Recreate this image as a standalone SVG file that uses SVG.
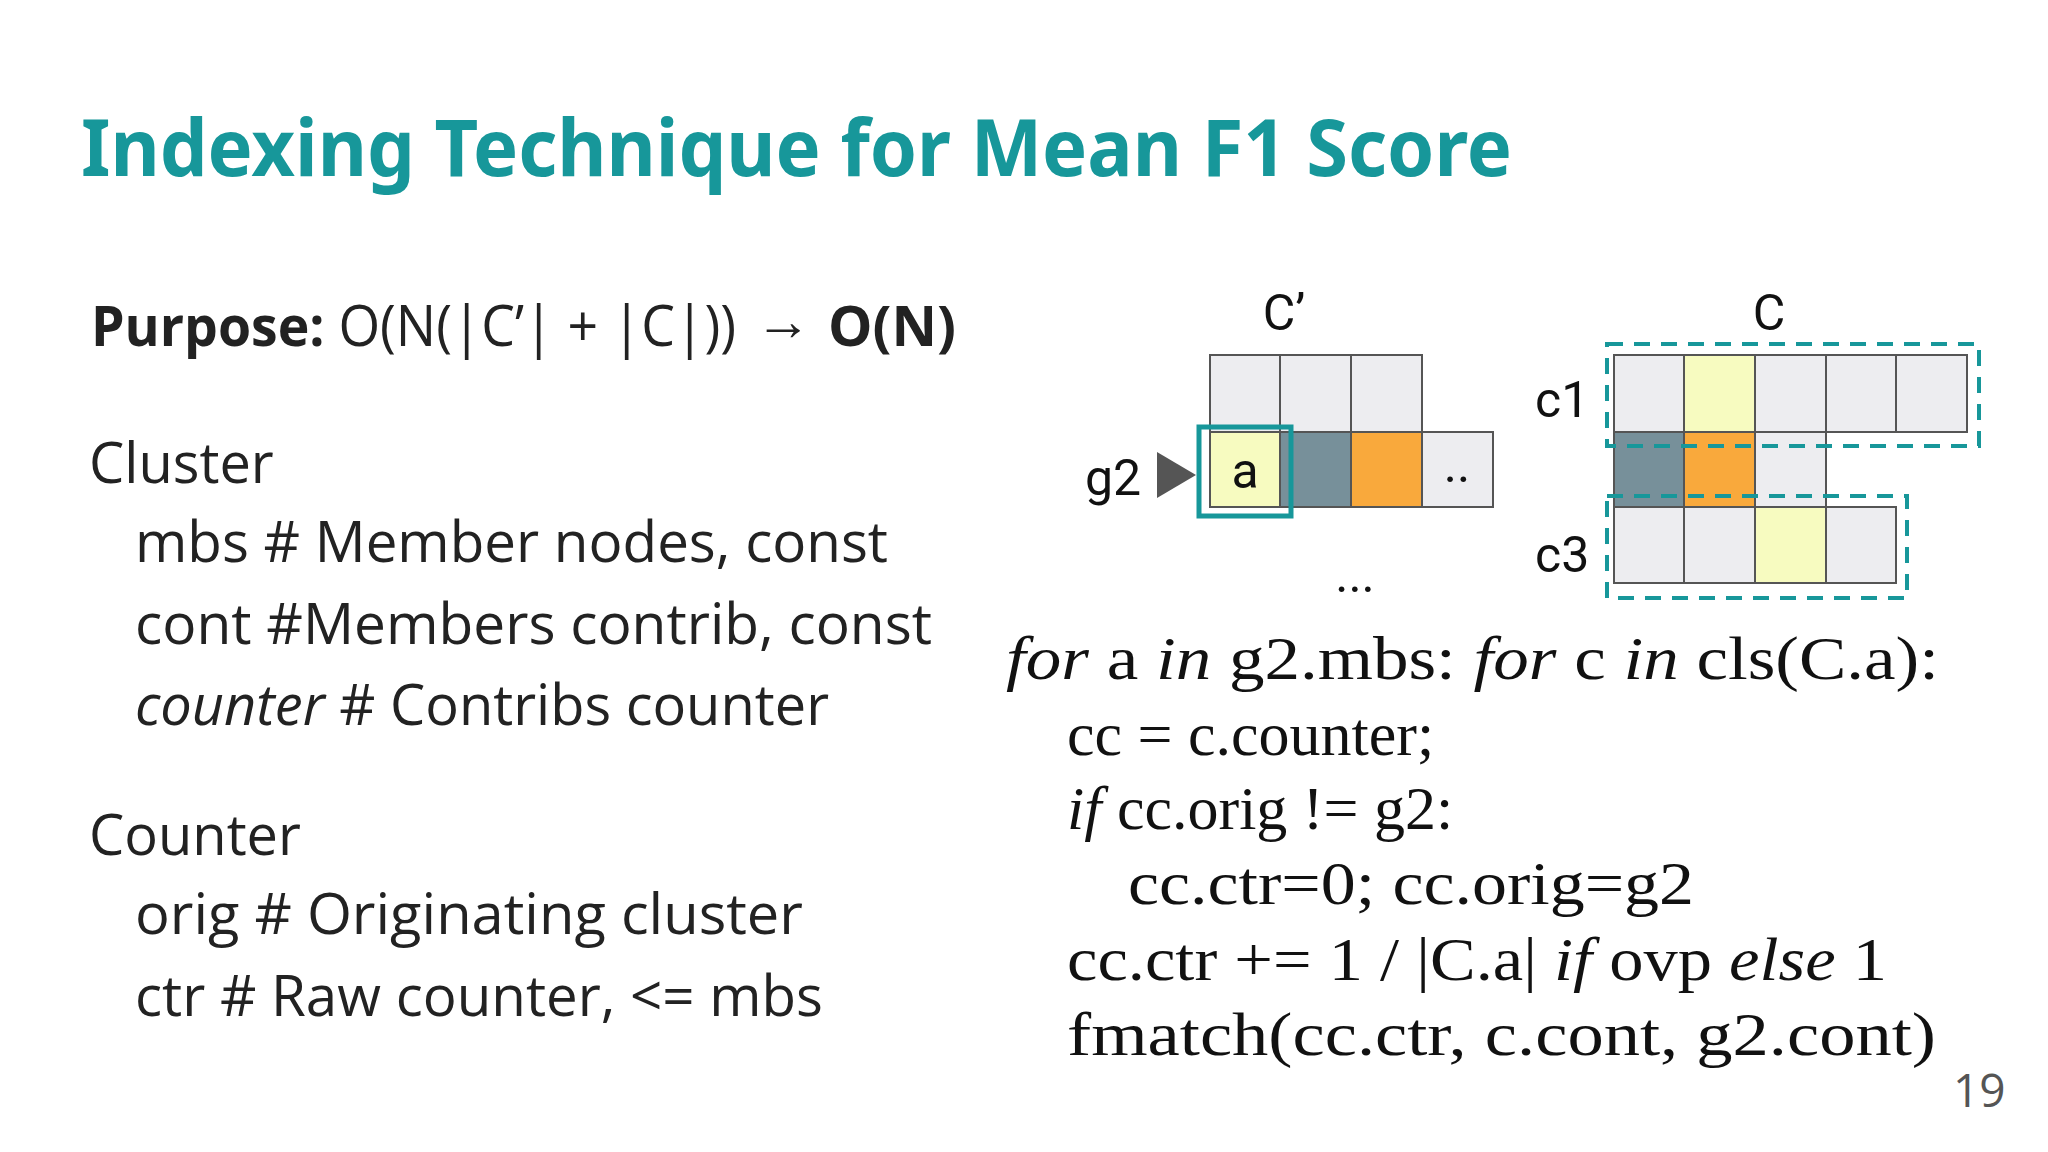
<svg xmlns="http://www.w3.org/2000/svg" width="2048" height="1152" viewBox="0 0 2048 1152">
<style>
.t{font-family:"Open Sans","Liberation Sans",sans-serif;fill:#222;font-size:56px}
.s{font-family:"Liberation Serif",serif;fill:#111;font-size:62px}
.lb{font-family:"Roboto","Liberation Sans",sans-serif;fill:#111;font-size:50px}
.c{stroke:#555;stroke-width:2}
.L{fill:#ededf0}.Y{fill:#f7fbc0}.D{fill:#77909a}.O{fill:#f9a93c}
.dash{fill:none;stroke:#17979a;stroke-width:4;stroke-dasharray:16 11}
</style>
<rect width="2048" height="1152" fill="#fff"/>
<text x="81" y="176" font-family="Noto Sans,sans-serif" font-weight="bold" font-size="78" fill="#17979a" textLength="1431" lengthAdjust="spacingAndGlyphs">Indexing Technique for Mean F1 Score</text>
<g id="left">
<text class="t" x="91" y="346" textLength="645" lengthAdjust="spacingAndGlyphs"><tspan font-weight="bold">Purpose:</tspan> O(N(|C’| + |C|))</text>
<text class="t" x="755" y="340" font-weight="bold" font-size="60">→</text>
<text class="t" x="828" y="346" font-weight="bold" fill="#17979a" textLength="128" lengthAdjust="spacingAndGlyphs">O(N)</text>
<text class="t" x="89" y="483">Cluster</text>
<text class="t" x="135" y="562" textLength="753" lengthAdjust="spacingAndGlyphs">mbs  # Member nodes, const</text>
<text class="t" x="135" y="644" textLength="797" lengthAdjust="spacingAndGlyphs">cont  #Members contrib, const</text>
<text class="t" x="135" y="725" textLength="694" lengthAdjust="spacingAndGlyphs"><tspan font-style="italic">counter</tspan>  # Contribs counter</text>
<text class="t" x="89" y="855">Counter</text>
<text class="t" x="135" y="934" textLength="668" lengthAdjust="spacingAndGlyphs">orig  # Originating cluster</text>
<text class="t" x="135" y="1016" textLength="688" lengthAdjust="spacingAndGlyphs">ctr  # Raw counter, &lt;= mbs</text>
</g>
<g id="Cprime">
<text class="lb" x="1284" y="330" text-anchor="middle" font-size="62">C’</text>
<rect class="c L" x="1210" y="355" width="70" height="77"/>
<rect class="c L" x="1280" y="355" width="71" height="77"/>
<rect class="c L" x="1351" y="355" width="71" height="77"/>
<rect class="c Y" x="1210" y="432" width="70" height="75"/>
<rect class="c D" x="1280" y="432" width="71" height="75"/>
<rect class="c O" x="1351" y="432" width="71" height="75"/>
<rect class="c L" x="1422" y="432" width="71" height="75"/>
<text class="lb" x="1457" y="482" text-anchor="middle" font-size="26">..</text>
<text class="lb" x="1245" y="488" text-anchor="middle">a</text>
<rect x="1199" y="427" width="92" height="89" fill="none" stroke="#17979a" stroke-width="5"/>
<polygon points="1157,452 1196,475 1157,498" fill="#555"/>
<text class="lb" x="1085" y="495">g2</text>
<text class="lb" x="1355" y="592" text-anchor="middle" font-size="40">...</text>
</g>
<g id="C">
<text class="lb" x="1769" y="330" text-anchor="middle" font-size="62">C</text>
<rect class="c L" x="1614" y="355" width="70" height="77"/>
<rect class="c Y" x="1684" y="355" width="71" height="77"/>
<rect class="c L" x="1755" y="355" width="71" height="77"/>
<rect class="c L" x="1826" y="355" width="70" height="77"/>
<rect class="c L" x="1896" y="355" width="71" height="77"/>
<rect class="c D" x="1614" y="432" width="70" height="75"/>
<rect class="c O" x="1684" y="432" width="71" height="75"/>
<rect class="c L" x="1755" y="432" width="71" height="75"/>
<rect class="c L" x="1614" y="507" width="70" height="76"/>
<rect class="c L" x="1684" y="507" width="71" height="76"/>
<rect class="c Y" x="1755" y="507" width="71" height="76"/>
<rect class="c L" x="1826" y="507" width="70" height="76"/>
<rect class="dash" x="1607" y="344" width="372" height="102"/>
<rect class="dash" x="1607" y="496" width="300" height="102"/>
<text class="lb" x="1535" y="417">c1</text>
<text class="lb" x="1535" y="572">c3</text>
</g>
<g id="code">
<text class="s" x="1006" y="679" textLength="933" lengthAdjust="spacingAndGlyphs"><tspan font-style="italic">for</tspan> a <tspan font-style="italic">in</tspan> g2.mbs:  <tspan font-style="italic">for</tspan> c <tspan font-style="italic">in</tspan> cls(C.a):</text>
<text class="s" x="1067" y="755">cc = c.counter;</text>
<text class="s" x="1067" y="829"><tspan font-style="italic">if</tspan> cc.orig != g2:</text>
<text class="s" x="1128" y="904" textLength="566" lengthAdjust="spacingAndGlyphs">cc.ctr=0; cc.orig=g2</text>
<text class="s" x="1067" y="980" textLength="820" lengthAdjust="spacingAndGlyphs">cc.ctr += 1 / |C.a| <tspan font-style="italic">if</tspan> ovp <tspan font-style="italic">else</tspan> 1</text>
<text class="s" x="1067" y="1055" textLength="869" lengthAdjust="spacingAndGlyphs">fmatch(cc.ctr, c.cont, g2.cont)</text>
</g>
<text x="1953" y="1107" font-family="Open Sans,sans-serif" font-size="46" fill="#555">19</text>
</svg>
